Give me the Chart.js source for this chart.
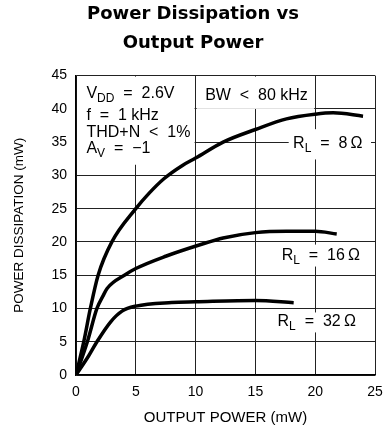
<!DOCTYPE html>
<html>
<head>
<meta charset="utf-8">
<script src="https://cdn.jsdelivr.net/npm/chart.js@4/dist/chart.umd.min.js"></script>
<style>
  html, body { margin: 0; padding: 0; background: #fff; }
  #wrap { width: 386px; height: 441px; }
</style>
</head>
<body>
<div id="wrap"><canvas id="chart"></canvas></div>
<script>
// values (output power mW -> dissipation mW)
const rl8Output = [0, 0.65, 1.2, 1.85, 3.0, 5.0, 6.1, 7.35, 8.9, 10, 12.3, 15, 17.6, 20, 21.5, 24];
const rl8Dissipation = [0, 5, 10, 15, 20, 25, 27.3, 29.5, 31.5, 32.6, 35.0, 36.9, 38.5, 39.2, 39.4, 38.9];

const rl16Output = [0, 0.95, 1.75, 2.25, 2.6, 4.15, 5, 7.5, 10.5, 12.3, 15, 17.6, 20, 21.8];
const rl16Dissipation = [0, 5, 10, 11.85, 13.0, 15.1, 16.0, 17.85, 19.65, 20.6, 21.4, 21.6, 21.6, 21.2];

const rl32Output = [0, 1.05, 1.75, 2.9, 3.85, 5, 8, 10, 15, 18.2];
const rl32Dissipation = [0, 2.85, 5, 8.0, 9.6, 10.35, 10.9, 11.0, 11.2, 10.85];

const xTickStep = 5;
const yTickStep = 5;

const FONT = '"Liberation Sans", Arial, sans-serif';

function toPoints(xs, ys) {
  return xs.map((x, i) => ({ x: x, y: ys[i] }));
}

function curve(label, xs, ys) {
  return {
    label: label,
    data: toPoints(xs, ys),
    showLine: true,
    borderColor: '#000',
    borderWidth: 3.5,
    pointRadius: 0,
    cubicInterpolationMode: 'monotone',
    fill: false
  };
}

// text with subscripts, runs like [{t:'R'},{t:'L',sub:true}]
function drawRuns(ctx, runs, x, y) {
  let cx = x;
  runs.forEach(r => {
    ctx.font = (r.sub ? '12px ' : '16px ') + FONT;
    ctx.fillText(r.t, cx, y + (r.sub ? 4 : 0));
    cx += ctx.measureText(r.t).width;
  });
}

const notesPlugin = {
  id: 'notes',
  beforeDatasetsDraw(chart) {
    const { ctx, scales: { x, y }, chartArea } = chart;
    const boxes = [
      [0, 10, 45, 31.6],
      [10, 20, 45, 40],
      [17.7, 24.75, 37.1, 32.4],
      [16.9, 24.4, 19.75, 16.3],
      [16.4, 23.9, 9.55, 6.4]
    ];
    ctx.save();
    ctx.fillStyle = '#fff';
    boxes.forEach(([x0, x1, y0, y1]) => {
      const l = Math.max(x.getPixelForValue(x0) + 1, chartArea.left + 1);
      const r = Math.min(x.getPixelForValue(x1) - 1, chartArea.right - 1);
      const t = Math.max(y.getPixelForValue(y0) + 1, chartArea.top + 1);
      const b = y.getPixelForValue(y1);
      ctx.fillRect(l, t, r - l, b - t);
    });
    ctx.restore();
  },
  afterDatasetsDraw(chart) {
    const { ctx, scales: { x, y } } = chart;
    const notes = [
      [0.87, 41.7, [{ t: 'V' }, { t: 'DD', sub: true }, { t: '  =  2.6V' }]],
      [0.87, 38.35, [{ t: 'f  =  1 kHz' }]],
      [0.87, 35.7, [{ t: 'THD+N  <  1%' }]],
      [0.87, 33.35, [{ t: 'A' }, { t: 'V', sub: true }, { t: '  =  \u22121' }]],
      [10.8, 41.35, [{ t: 'BW  <  80 kHz' }]],
      [18.15, 34.1, [{ t: 'R' }, { t: 'L', sub: true }, { t: '  =  8\u2009\u03A9' }]],
      [17.2, 17.25, [{ t: 'R' }, { t: 'L', sub: true }, { t: '  =  16\u2009\u03A9' }]],
      [16.85, 7.35, [{ t: 'R' }, { t: 'L', sub: true }, { t: '  =  32\u2009\u03A9' }]]
    ];
    ctx.save();
    ctx.fillStyle = '#000';
    ctx.textBaseline = 'alphabetic';
    ctx.textAlign = 'left';
    notes.forEach(([nx, ny, runs]) => {
      drawRuns(ctx, runs, x.getPixelForValue(nx), y.getPixelForValue(ny));
    });
    ctx.restore();
  }
};

new Chart(document.getElementById('chart'), {
  type: 'scatter',
  data: {
    datasets: [
      curve('RL = 8', rl8Output, rl8Dissipation),
      curve('RL = 16', rl16Output, rl16Dissipation),
      curve('RL = 32', rl32Output, rl32Dissipation)
    ]
  },
  options: {
    responsive: true,
    maintainAspectRatio: false,
    animation: false,
    layout: { padding: 0 },
    plugins: {
      legend: { display: false },
      tooltip: { enabled: false },
      title: {
        display: true,
        text: ['Power Dissipation vs', 'Output Power'],
        color: '#000',
        font: { family: '"DejaVu Sans", sans-serif', size: 18, weight: 'bold', lineHeight: 1.6 },
        padding: { top: 0, bottom: 18 }
      }
    },
    scales: {
      x: {
        type: 'linear',
        min: 0,
        max: 25,
        afterFit(scale) {
          scale.height = 66;
          // fixed side room, the last tick label hangs into it
          scale.paddingLeft = 0;
          scale.paddingRight = 11;
        },
        ticks: {
          stepSize: xTickStep,
          color: '#000',
          padding: 9,
          font: { family: FONT, size: 14 }
        },
        grid: { color: '#222', lineWidth: 1, drawTicks: false },
        border: { color: '#000', width: 1.5 },
        title: {
          display: true,
          text: 'OUTPUT POWER (mW)',
          color: '#000',
          font: { family: FONT, size: 15 },
          padding: { top: 4, bottom: 14 }
        }
      },
      y: {
        type: 'linear',
        min: 0,
        max: 45,
        afterFit(scale) { scale.width = 76; },
        ticks: {
          stepSize: yTickStep,
          color: '#000',
          padding: 9,
          font: { family: FONT, size: 14 }
        },
        grid: { color: '#222', lineWidth: 1, drawTicks: false },
        border: { color: '#000', width: 1.5 },
        title: {
          display: true,
          text: 'POWER DISSIPATION (mW)',
          color: '#000',
          font: { family: FONT, size: 13.5 },
          padding: { top: 11, bottom: 0 }
        }
      }
    }
  },
  plugins: [notesPlugin]
});
</script>
</body>
</html>
